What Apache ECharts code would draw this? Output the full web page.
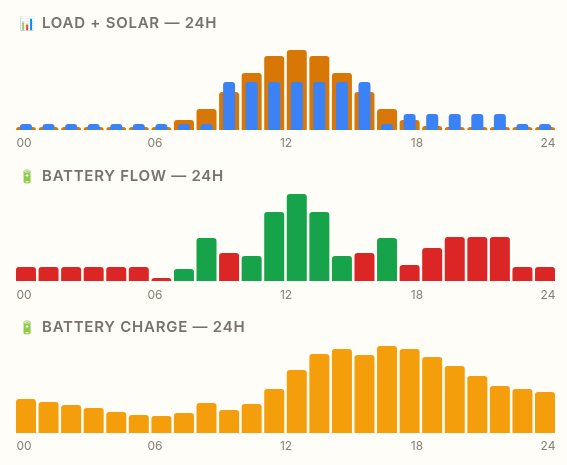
<!DOCTYPE html>
<html><head><meta charset="utf-8">
<style>
html,body{margin:0;padding:0;background:#fffdf8;width:567px;height:465px;overflow:hidden}
#c{position:absolute;left:0;top:0;width:567px;height:465px}
.t{position:absolute;left:18px;font:600 15px/18px Inter,sans-serif;letter-spacing:.75px;color:#78716c;white-space:nowrap}
.t i{font-style:normal;font-size:13px;padding-left:1px;display:inline-block;width:23px;letter-spacing:0}
</style></head><body>
<div id="c"></div>
<div class="t" style="top:14px"><i>📊</i>LOAD + SOLAR — 24H</div>
<div class="t" style="top:167px"><i>🔋</i>BATTERY FLOW — 24H</div>
<div class="t" style="top:318px"><i>🔋</i>BATTERY CHARGE — 24H</div>
<script src="https://cdn.jsdelivr.net/npm/echarts@6/dist/echarts.min.js"></script>
<script>
const hours = ['00','01','02','03','04','05','06','07','08','09','10','11','12','13','14','15','16','17','18','19','20','21','22','23'];
const tickLabels = ['00','06','12','18','24'];
const load = [.15,.15,.15,.15,.15,.15,.15,.5,1.05,1.9,2.85,3.7,4,3.7,2.85,1.9,1.05,.5,.2,.15,.15,.15,.15,.15];
const solar = [.3,.3,.3,.3,.3,.3,.3,.3,.3,2.4,2.4,2.4,2.4,2.4,2.4,2.4,.3,.8,.8,.8,.8,.8,.3,.3];
const flow = [.7,.7,.7,.7,.7,.7,.15,.6,2.15,1.4,1.25,3.45,4.35,3.45,1.25,1.4,2.15,.8,1.65,2.2,2.2,2.2,.7,.7];
const flowDir = ['d','d','d','d','d','d','d','c','c','d','c','c','c','c','c','d','c','d','d','d','d','d','d','d'];
const charge = [34,31,28,25,21,18,17,20,30,23,29,44,63,79,84,78,87,84,76,67,57,47,44,41];
const colors = {load:'#d97706',solar:'#3b82f6',c:'#16a34a',d:'#dc2626',charge:'#f59e0b'};
const R = [3,3,0,0];
const plots = [{top:40,height:90,max:4.5,labelTop:130},{top:191,height:90,max:4.5,labelTop:282},{top:333,height:100,max:100,labelTop:433}];
const grids=[],xAxes=[],yAxes=[];
plots.forEach((p,i)=>{
  grids.push({left:14.7,width:541.6,top:p.top,height:p.height});
  xAxes.push({type:'category',gridIndex:i*2,data:hours,show:false});
  yAxes.push({type:'value',gridIndex:i*2,min:0,max:p.max,show:false});
  grids.push({left:24,width:524,top:p.labelTop,height:1});
  xAxes.push({type:'category',gridIndex:i*2+1,data:tickLabels,boundaryGap:false,
    axisLine:{show:false},axisTick:{show:false},splitLine:{show:false},
    axisLabel:{show:true,interval:0,color:'#857f74',fontFamily:'Inter',fontSize:12,margin:6}});
  yAxes.push({type:'value',gridIndex:i*2+1,show:false});
});
// second hidden x axis in the first plot so the narrower solar bars centre independently on each hour
xAxes.push({type:'category',gridIndex:0,data:hours,show:false});
yAxes.push({type:'value',gridIndex:0,min:0,max:plots[0].max,show:false});
const solarAxis = xAxes.length-1;
const chart = echarts.init(document.getElementById('c'),null,{renderer:'canvas'});
chart.setOption({
  animation:false,backgroundColor:'transparent',grid:grids,xAxis:xAxes,yAxis:yAxes,
  series:[
    {type:'bar',xAxisIndex:0,yAxisIndex:0,data:load,barWidth:20,itemStyle:{color:colors.load,borderRadius:R}},
    {type:'bar',xAxisIndex:solarAxis,yAxisIndex:solarAxis,data:solar,barWidth:12,itemStyle:{color:colors.solar,borderRadius:R}},
    {type:'bar',xAxisIndex:2,yAxisIndex:2,barWidth:20,data:flow.map((v,i)=>({value:v,itemStyle:{color:colors[flowDir[i]],borderRadius:R}}))},
    {type:'bar',xAxisIndex:4,yAxisIndex:4,data:charge,barWidth:20,itemStyle:{color:colors.charge,borderRadius:R}}
  ]
});
</script></body></html>
